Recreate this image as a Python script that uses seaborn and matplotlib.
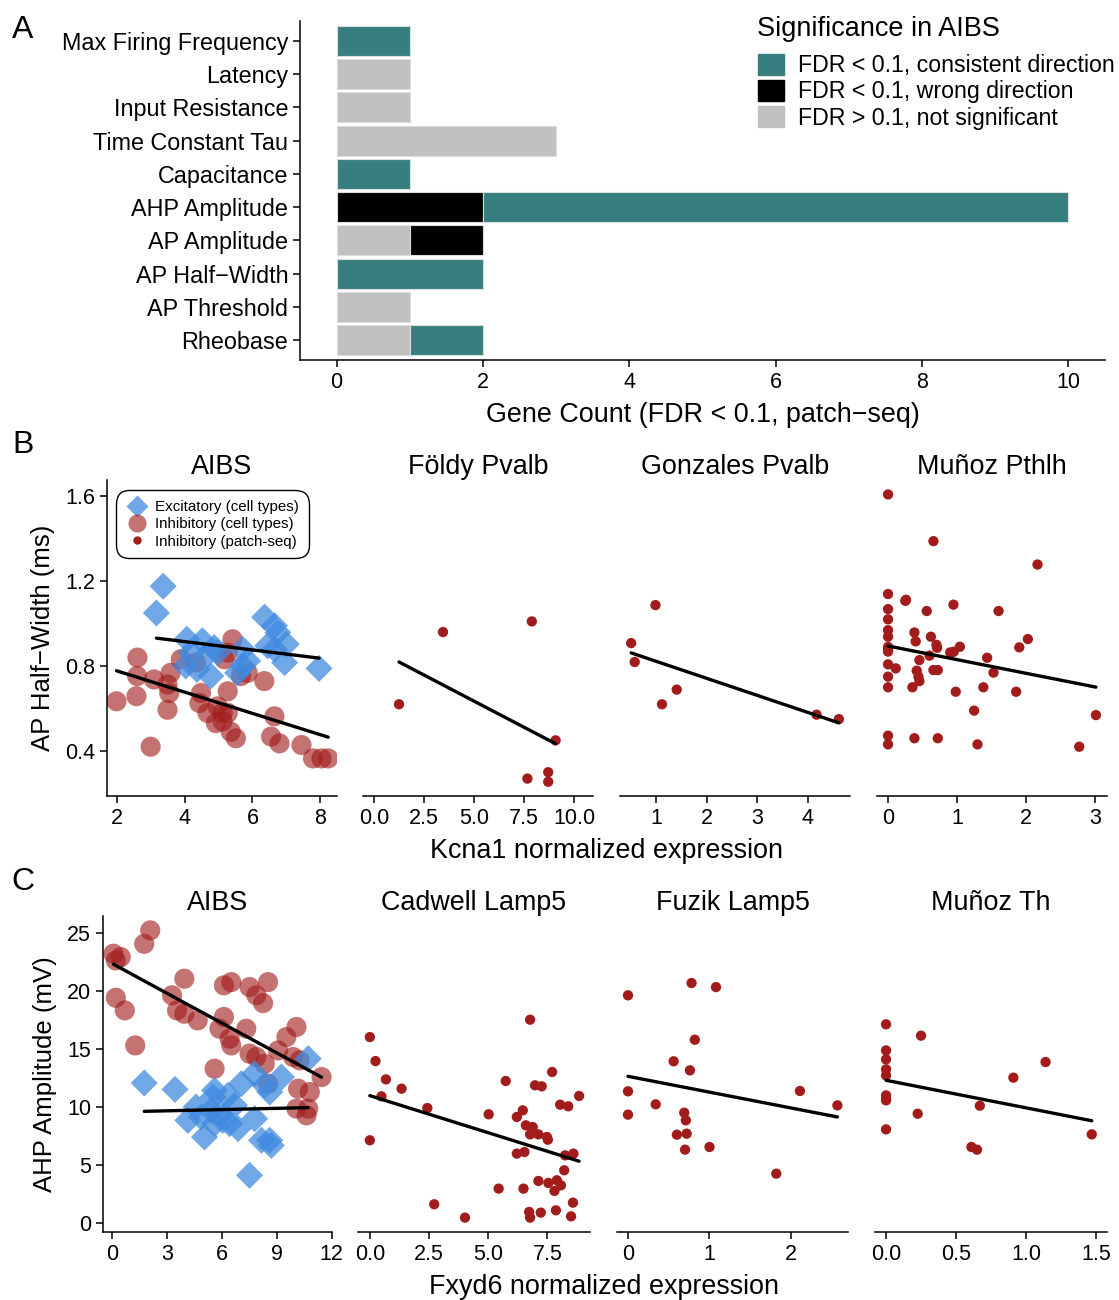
import numpy as np
import pandas as pd
import matplotlib
matplotlib.use('Agg')
import matplotlib.pyplot as plt
import seaborn as sns
from matplotlib.patches import Patch
from matplotlib.lines import Line2D

# ---- Panel A: gene counts ----
features = ['Max Firing Frequency', 'Latency', 'Input Resistance', 'Time Constant Tau',
            'Capacitance', 'AHP Amplitude', 'AP Amplitude', 'AP Half\u2212Width',
            'AP Threshold', 'Rheobase']
not_sig = [0, 1, 1, 3, 0, 0, 1, 0, 1, 1]
wrong_dir = [0, 0, 0, 0, 0, 2, 1, 0, 0, 0]
consistent = [1, 0, 0, 0, 1, 8, 0, 2, 0, 1]

# ---- Panel B: AP half-width vs Kcna1 ----
b_aibs_exc_x = [3.36, 3.16, 4.06, 4.52, 4.87, 4.18, 4.67, 4.03, 4.36, 4.77, 4.97, 5.71,
                5.86, 5.56, 5.71, 6.36, 6.65, 6.75, 7.0, 6.65, 6.95, 7.97, 6.45]
b_aibs_exc_y = [1.176, 1.05, 0.926, 0.919, 0.887, 0.863, 0.855, 0.80, 0.784, 0.753, 0.863,
                0.879, 0.824, 0.768, 0.80, 1.03, 0.99, 0.958, 0.903, 0.879, 0.816, 0.789, 0.895]
b_aibs_inh_x = [1.98, 2.59, 2.6, 2.57, 2.99, 3.09, 3.49, 3.49, 3.54, 3.58, 3.88, 4.33, 4.48,
                4.43, 4.67, 4.97, 5.12, 5.41, 5.17, 5.27, 5.27, 5.51, 5.36, 4.92, 5.66, 5.86,
                6.35, 6.65, 6.55, 6.8, 7.45, 7.79, 8.04, 8.24, 5.12, 5.27]
b_aibs_inh_y = [0.634, 0.753, 0.84, 0.658, 0.42, 0.737, 0.713, 0.594, 0.673, 0.768, 0.832,
                0.816, 0.673, 0.626, 0.579, 0.61, 0.539, 0.926, 0.832, 0.681, 0.579, 0.46,
                0.49, 0.531, 0.753, 0.768, 0.729, 0.563, 0.468, 0.436, 0.428, 0.365, 0.365,
                0.365, 0.579, 0.863]
b_foldy_x = [1.25, 3.45, 7.89, 9.08, 7.67, 8.71, 8.71]
b_foldy_y = [0.62, 0.96, 1.01, 0.45, 0.27, 0.30, 0.255]
b_gonz_x = [0.99, 0.51, 0.58, 1.41, 1.12, 4.17, 4.61]
b_gonz_y = [1.087, 0.908, 0.819, 0.689, 0.62, 0.571, 0.55]
b_munoz_x = [0, 0.657, 2.164, 0, 0.25, 0.26, 0, 0.56, 0.947, 1.60, 0, 0, 0, 0.382, 0.40,
             0.62, 0, 0, 0, 0.70, 0.71, 1.04, 0.90, 0.95, 0.60, 0.454, 0, 0.111, 1.435,
             1.90, 2.024, 1.527, 0.415, 0.44, 0.657, 0.72, 0, 0.454, 0.353, 0, 0.98, 1.38,
             1.855, 1.246, 3.01, 0, 0, 0.382, 0.72, 1.295, 2.768]
b_munoz_y = [1.608, 1.388, 1.278, 1.139, 1.107, 1.112, 1.068, 1.059, 1.089, 1.059, 1.02,
             0.969, 0.938, 0.958, 0.916, 0.938, 0.89, 0.875, 0.868, 0.90, 0.886, 0.891,
             0.864, 0.867, 0.849, 0.828, 0.808, 0.789, 0.839, 0.888, 0.927, 0.769, 0.778,
             0.75, 0.781, 0.781, 0.75, 0.729, 0.70, 0.70, 0.679, 0.70, 0.679, 0.59, 0.569,
             0.472, 0.431, 0.46, 0.46, 0.431, 0.42]

# ---- Panel C: AHP amplitude vs Fxyd6 ----
c_aibs_exc_x = [1.77, 3.45, 5.61, 6.34, 7.07, 7.8, 9.26, 10.72, 8.62, 4.6, 5.42, 5.88, 4.88,
                4.15, 5.61, 6.43, 6.89, 6.06, 7.8, 5.06, 8.17, 8.62, 8.71, 7.52, 5.52, 6.7, 8.35]
c_aibs_exc_y = [12.1, 11.55, 11.47, 11.03, 12.04, 12.9, 12.61, 14.2, 11.32, 10.03, 9.74, 9.45,
                9.17, 8.88, 8.59, 8.59, 8.16, 8.88, 9.02, 7.44, 7.16, 7.16, 6.72, 4.14, 10.89,
                10.17, 11.9]
c_aibs_inh_x = [2.1, 1.77, 0.09, 0.49, 0.22, 0.22, 0.71, 1.28, 3.96, 3.29, 3.56, 3.96, 4.69,
                6.12, 6.52, 7.52, 8.53, 7.89, 8.26, 6.12, 5.88, 7.34, 6.43, 6.52, 5.61, 7.52,
                7.89, 8.35, 9.08, 9.53, 10.08, 9.9, 10.26, 11.45, 10.17, 10.81, 10.08, 10.72,
                10.63, 8.53]
c_aibs_inh_y = [25.26, 24.1, 23.25, 22.96, 22.67, 19.45, 18.36, 15.34, 21.09, 19.66, 18.36,
                18.07, 17.5, 20.52, 20.8, 20.37, 20.8, 19.66, 18.99, 17.79, 16.78, 16.78,
                15.92, 15.34, 13.33, 14.63, 14.34, 13.76, 14.91, 16.06, 16.93, 14.34, 14.05,
                12.61, 11.61, 11.32, 9.89, 9.89, 9.31, 12.04]
c_cadwell_x = [0, 0.24, 0.68, 1.34, 0.49, 0, 2.43, 2.72, 4.02, 5.02, 5.44, 5.74, 6.77, 6.98,
               7.26, 7.7, 8.84, 8.04, 8.38, 6.46, 6.21, 6.59, 6.88, 6.77, 7.12, 7.48, 7.52,
               6.21, 6.53, 8.25, 8.6, 8.21, 7.12, 7.54, 7.9, 8.07, 7.8, 6.49, 8.58, 6.73,
               6.77, 7.22, 7.86, 8.5]
c_cadwell_y = [16.06, 13.99, 12.41, 11.61, 10.95, 7.16, 9.94, 1.64, 0.49, 9.4, 2.99, 12.27,
               17.56, 11.9, 11.81, 13.05, 10.98, 10.23, 10.09, 9.74, 9.17, 8.45, 8.3, 7.67,
               7.67, 7.44, 7.21, 6.01, 6.15, 5.86, 6.01, 4.57, 3.65, 3.48, 3.71, 3.28, 2.79,
               2.99, 1.78, 0.98, 0.49, 0.92, 1.12, 0.6]
c_fuzik_x = [0, 0.78, 1.08, 0.82, 0.56, 0.76, 0, 2.11, 0.34, 0, 2.57, 0.69, 0.71, 0.6,
             0.72, 0.70, 1.0, 1.82]
c_fuzik_y = [19.66, 20.72, 20.37, 15.83, 13.97, 13.19, 11.38, 11.41, 10.26, 9.37, 10.17,
             9.54, 8.88, 7.64, 7.73, 6.35, 6.58, 4.28]
c_munoz_x = [0, 0.25, 0, 0, 0, 0, 1.14, 0.91, 0, 0, 0, 0.226, 0.67, 0, 0.61, 0.65, 1.47]
c_munoz_y = [17.16, 16.18, 14.91, 14.14, 13.28, 12.76, 13.91, 12.56, 11.03, 10.75, 10.6,
             9.45, 10.14, 8.1, 6.58, 6.35, 7.67]

TEAL = '#367f7e'
GREY = '#c0c0c0'
BLUE = '#3f8ae0'
RED = '#a21c1c'

sns.set_style('ticks')
plt.rcParams['font.family'] = ['Liberation Sans', 'DejaVu Sans']
plt.rcParams['text.color'] = 'black'
plt.rcParams['axes.labelcolor'] = 'black'
plt.rcParams['axes.edgecolor'] = 'black'
plt.rcParams['axes.linewidth'] = 1.1
plt.rcParams['xtick.major.width'] = 1.1
plt.rcParams['ytick.major.width'] = 1.1
plt.rcParams['xtick.major.size'] = 5
plt.rcParams['ytick.major.size'] = 5
plt.rcParams['xtick.color'] = 'black'
plt.rcParams['ytick.color'] = 'black'

W, H = 1119, 1300
fig = plt.figure(figsize=(W / 100, H / 100), dpi=100)


def px_axes(l, r, t, b):
    return fig.add_axes([l / W, 1 - b / H, (r - l) / W, (b - t) / H])


# ---------- A ----------
ax = px_axes(300, 1105, 21, 360)
pos = np.arange(len(features))
left = np.zeros(len(features))
for vals, col in [(not_sig, GREY), (wrong_dir, 'black'), (consistent, TEAL)]:
    vals = np.array(vals, dtype=float)
    mask = vals > 0
    ax.barh(pos[mask], vals[mask], left=left[mask], height=0.9, color=col,
            edgecolor='#dddddd', linewidth=0.8)
    left = left + vals
ax.set_ylim(9.6, -0.6)
ax.set_xlim(-0.5, 10.5)
ax.set_yticks(pos)
ax.set_yticklabels(features, fontsize=16.8)
ax.set_xticks([0, 2, 4, 6, 8, 10])
ax.tick_params(axis='x', labelsize=15.5)
sns.despine(ax=ax)
fig.text(703 / W, 1 - 415 / H, 'Gene Count (FDR < 0.1, patch\u2212seq)', fontsize=19.4,
         ha='center', va='center')
fig.text(757 / W, 1 - 29 / H, 'Significance in AIBS', fontsize=19.5, ha='left',
         va='center')
handles = [Patch(color=TEAL), Patch(color='black'), Patch(color=GREY)]
labels = ['FDR < 0.1, consistent direction', 'FDR < 0.1, wrong direction',
          'FDR > 0.1, not significant']
leg = fig.legend(handles, labels, loc='upper left',
                 bbox_to_anchor=(758 / W, 1 - 54 / H), frameon=False, fontsize=16.7,
                 handlelength=1.12, handleheight=1.0, labelspacing=0.12,
                 handletextpad=0.6, borderaxespad=0, borderpad=0)


def scatter_panel(ax, title, xlim, ylim, xticks, xticklabels, dots=None, exc=None,
                  inh=None, yticks=None):
    if inh is not None:
        d = pd.DataFrame({'x': inh[0], 'y': inh[1]})
        sns.scatterplot(data=d, x='x', y='y', color=RED, alpha=0.62, s=210,
                        edgecolor='none', ax=ax)
    if exc is not None:
        d = pd.DataFrame({'x': exc[0], 'y': exc[1]})
        sns.scatterplot(data=d, x='x', y='y', color=BLUE, alpha=0.75, s=190, marker='D',
                        edgecolor='none', ax=ax)
    if dots is not None:
        d = pd.DataFrame({'x': dots[0], 'y': dots[1]})
        sns.scatterplot(data=d, x='x', y='y', color=RED, s=55, edgecolor='none', ax=ax)
    for grp in (inh, exc, dots):
        if grp is not None:
            d = pd.DataFrame({'x': grp[0], 'y': grp[1]})
            sns.regplot(data=d, x='x', y='y', scatter=False, ci=None, color='black',
                        line_kws={'lw': 2.4}, ax=ax)
    ax.set_xlim(*xlim)
    ax.set_ylim(*ylim)
    ax.set_xticks(xticks)
    ax.set_xticklabels(xticklabels)
    ax.tick_params(labelsize=15.5)
    ax.set_xlabel('')
    ax.set_ylabel('')
    ax.set_title(title, fontsize=19.4, pad=2)
    if yticks is None:
        ax.set_yticks([])
        sns.despine(ax=ax, left=True)
    else:
        ax.set_yticks(yticks)
        sns.despine(ax=ax)


# ---------- B ----------
b_ylim = (0.188, 1.676)
ax = px_axes(107, 337, 480, 796)
scatter_panel(ax, 'AIBS', (1.70, 8.50), b_ylim, [2, 4, 6, 8], ['2', '4', '6', '8'],
              exc=(b_aibs_exc_x, b_aibs_exc_y), inh=(b_aibs_inh_x, b_aibs_inh_y),
              yticks=[0.4, 0.8, 1.2, 1.6])
ax.set_yticklabels(['0.4', '0.8', '1.2', '1.6'])
ax.set_ylabel('AP Half\u2212Width (ms)', fontsize=18.5, labelpad=7)
lh = [Line2D([], [], marker='D', ls='none', color=BLUE, alpha=0.75, markersize=11.5,
             markeredgecolor='none'),
      Line2D([], [], marker='o', ls='none', color=RED, alpha=0.62, markersize=13,
             markeredgecolor='none'),
      Line2D([], [], marker='o', ls='none', color=RED, markersize=6,
             markeredgecolor='none')]
lg = ax.legend(lh, ['Excitatory (cell types)', 'Inhibitory (cell types)',
                    'Inhibitory (patch-seq)'], loc='upper left',
               bbox_to_anchor=(0.022, 0.98), fontsize=10.9, frameon=True, fancybox=True,
               edgecolor='black', framealpha=1, handletextpad=0.45, labelspacing=0.22,
               borderpad=0.4, handlelength=1.5)
lg.get_frame().set_linewidth(1.0)
lg.get_frame().set_boxstyle('round', pad=0.25, rounding_size=0.9)

ax = px_axes(363, 593, 480, 796)
scatter_panel(ax, 'F\u00f6ldy Pvalb', (-0.55, 10.95), b_ylim, [0, 2.5, 5, 7.5, 10],
              ['0.0', '2.5', '5.0', '7.5', '10.0'], dots=(b_foldy_x, b_foldy_y))
ax = px_axes(620, 850, 480, 796)
scatter_panel(ax, 'Gonzales Pvalb', (0.29, 4.83), b_ylim, [1, 2, 3, 4],
              ['1', '2', '3', '4'], dots=(b_gonz_x, b_gonz_y))
ax = px_axes(877, 1107, 480, 796)
scatter_panel(ax, 'Mu\u00f1oz Pthlh', (-0.16, 3.17), b_ylim, [0, 1, 2, 3],
              ['0', '1', '2', '3'], dots=(b_munoz_x, b_munoz_y))
fig.text(606 / W, 1 - 851 / H, 'Kcna1 normalized expression', fontsize=19.4,
         ha='center', va='center')

# ---------- C ----------
c_ylim = (-0.75, 26.5)
ax = px_axes(103, 332, 916, 1232)
scatter_panel(ax, 'AIBS', (-0.48, 12.02), c_ylim, [0, 3, 6, 9, 12],
              ['0', '3', '6', '9', '12'], exc=(c_aibs_exc_x, c_aibs_exc_y),
              inh=(c_aibs_inh_x, c_aibs_inh_y), yticks=[0, 5, 10, 15, 20, 25])
ax.set_ylabel('AHP Amplitude (mV)', fontsize=18.5, labelpad=7)
ax = px_axes(358, 590, 916, 1232)
scatter_panel(ax, 'Cadwell Lamp5', (-0.5, 9.3), c_ylim, [0, 2.5, 5, 7.5],
              ['0.0', '2.5', '5.0', '7.5'], dots=(c_cadwell_x, c_cadwell_y))
ax = px_axes(617, 848, 916, 1232)
scatter_panel(ax, 'Fuzik Lamp5', (-0.135, 2.70), c_ylim, [0, 1, 2],
              ['0', '1', '2'], dots=(c_fuzik_x, c_fuzik_y))
ax = px_axes(875, 1107, 916, 1232)
scatter_panel(ax, 'Mu\u00f1oz Th', (-0.079, 1.579), c_ylim, [0, 0.5, 1.0, 1.5],
              ['0.0', '0.5', '1.0', '1.5'], dots=(c_munoz_x, c_munoz_y))
fig.text(604 / W, 1 - 1287 / H, 'Fxyd6 normalized expression', fontsize=19.4,
         ha='center', va='center')

for letter, y in [('A', 30), ('B', 445), ('C', 882)]:
    fig.text(23 / W, 1 - y / H, letter, fontsize=23, ha='center', va='center')

fig.savefig('out.png', dpi=100)
